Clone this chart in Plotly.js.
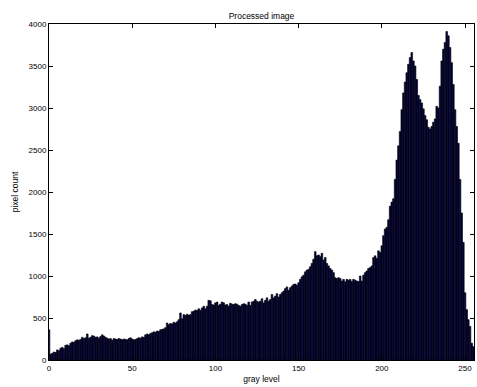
<!DOCTYPE html>
<html>
<head>
<meta charset="utf-8">
<script src="https://cdn.plot.ly/plotly-3.0.1.min.js"></script>
<style>html,body{margin:0;padding:0;background:#fff;}#chart{width:477px;height:387px;}</style>
</head>
<body>
<div id="chart"></div>
<script>
const chartTitle = "Processed image";
const xLabel = "gray level";
const yLabel = "pixel count";
const xTicks = [0, 50, 100, 150, 200, 250];
const yTicks = [0, 500, 1000, 1500, 2000, 2500, 3000, 3500, 4000];
const grayLevels = Array.from({length: 256}, (_, i) => i);
const pixelCounts = [
  360, 70, 80, 95, 90, 120, 110, 140, 150, 135,
  175, 180, 170, 200, 215, 210, 230, 240, 235, 245,
  270, 255, 265, 310, 260, 270, 290, 285, 270, 275,
  260, 280, 300, 285, 270, 260, 250, 255, 235, 255,
  250, 245, 255, 250, 240, 250, 245, 240, 255, 265,
  250, 240, 245, 255, 265, 260, 275, 270, 300, 310,
  300, 315, 325, 335, 330, 345, 340, 360, 365, 370,
  385, 440, 420, 435, 430, 450, 440, 455, 480, 560,
  490, 540, 530, 545, 535, 540, 575, 580, 595, 590,
  610, 590, 620, 640, 610, 640, 710, 705, 660, 655,
  680, 690, 650, 665, 690, 680, 655, 660, 640, 675,
  665, 660, 670, 665, 650, 640, 660, 670, 665, 650,
  690, 650, 690, 700, 720, 700, 690, 700, 730, 680,
  710, 740, 700, 720, 780, 740, 760, 790, 750, 780,
  800, 820, 850, 870, 830, 860, 880, 900, 905, 890,
  920, 960, 990, 1010, 1050, 1070, 1080, 1110, 1150, 1200,
  1290, 1240, 1250, 1230, 1270, 1190, 1220, 1150, 1120, 1090,
  1070, 1040, 980, 970, 980, 970, 940, 960, 930, 960,
  950, 960, 935, 960, 950, 940, 935, 1000, 940, 1010,
  1040, 1060, 1090, 1100, 1120, 1220, 1240, 1210, 1300, 1280,
  1360, 1480, 1560, 1580, 1670, 1830, 1880, 1920, 2150, 2380,
  2550, 2720, 2980, 3180, 3310, 3420, 3520, 3600, 3660, 3560,
  3500, 3340, 3150, 3100, 3060, 2990, 2910, 2860, 2770, 2750,
  2780, 2830, 2870, 3020, 3000, 3260, 3560, 3700, 3780, 3910,
  3860, 3720, 3540, 3280, 2980, 2780, 2580, 2150, 1750, 1400,
  800, 600, 480, 400, 200, 160
];

const font = {family: "Liberation Sans, Arial, sans-serif", size: 8, color: "#000"};
const data = [{
  type: "bar",
  x: grayLevels,
  y: pixelCounts,
  width: 1,
  marker: {color: "#000040", line: {color: "#000", width: 0.6}},
  hoverinfo: "x+y"
}];
const layout = {
  width: 477, height: 387,
  margin: {l: 48.7, r: 2.7, t: 24.3, b: 26.5, pad: 0},
  paper_bgcolor: "#fff", plot_bgcolor: "#fff",
  font: font,
  showlegend: false,
  bargap: 0,
  title: {text: chartTitle, font: {family: font.family, size: 8.5, color: "#000"}, x: 0.5, xref: "paper", y: 1, yref: "paper", yanchor: "bottom", pad: {b: 5}},
  xaxis: {
    range: [0, 255.4], tickvals: xTicks, ticktext: xTicks.map(String),
    ticks: "inside", ticklen: 4, tickcolor: "#000", tickwidth: 1,
    showline: true, linecolor: "#000", linewidth: 1, mirror: "ticks",
    showgrid: false, zeroline: false, automargin: false,
    tickfont: font,
    title: {text: xLabel, font: {family: font.family, size: 8.5, color: "#000"}, standoff: 4}
  },
  yaxis: {
    range: [0, 4000], tickvals: yTicks, ticktext: yTicks.map(String),
    ticks: "inside", ticklen: 4, tickcolor: "#000", tickwidth: 1,
    showline: true, linecolor: "#000", linewidth: 1, mirror: "ticks",
    showgrid: false, zeroline: false, automargin: false,
    tickfont: font,
    title: {text: yLabel, font: {family: font.family, size: 8.5, color: "#000"}, standoff: 8}
  }
};
Plotly.newPlot("chart", data, layout, {displayModeBar: false, staticPlot: true});
</script>
</body>
</html>
